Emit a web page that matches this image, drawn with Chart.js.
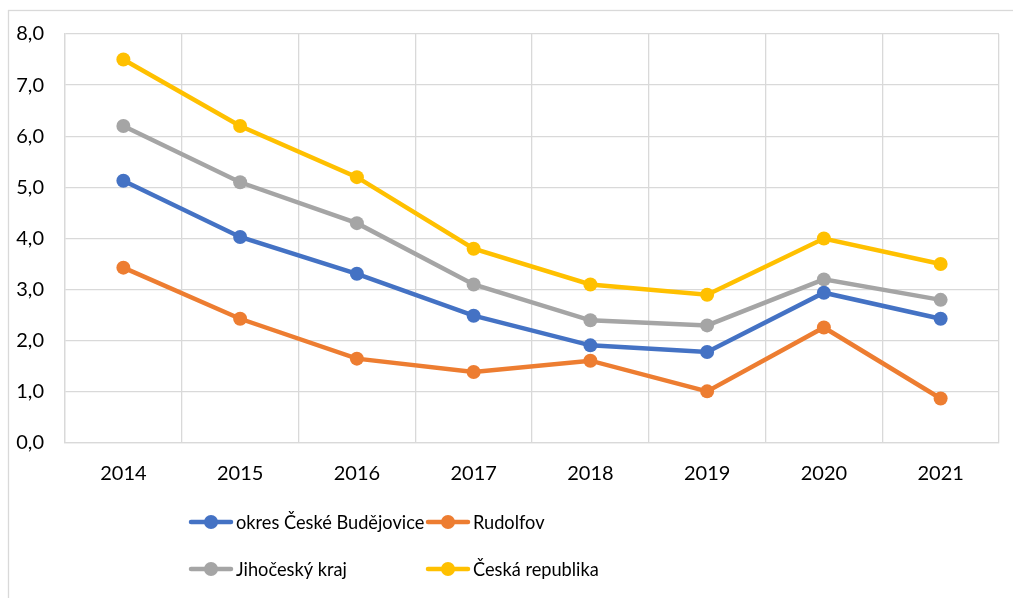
<!DOCTYPE html>
<html>
<head>
<meta charset="utf-8">
<script src="https://cdn.jsdelivr.net/npm/chart.js@4/dist/chart.umd.min.js"></script>
<style>
html,body{margin:0;padding:0;background:#fff;}
#wrap{width:1013px;height:598px;position:relative;}
</style>
</head>
<body>
<div id="wrap"><canvas id="c" width="1013" height="598"></canvas></div>
<script>
const years = ['2014','2015','2016','2017','2018','2019','2020','2021'];
const seriesNames = ['okres České Budějovice','Rudolfov','Jihočeský kraj','Česká republika'];
const okresCB = [5.13, 4.03, 3.31, 2.49, 1.91, 1.78, 2.94, 2.43];
const rudolfov = [3.43, 2.43, 1.65, 1.39, 1.61, 1.01, 2.26, 0.87];
const jihocesky = [6.2, 5.1, 4.3, 3.1, 2.4, 2.3, 3.2, 2.8];
const cr = [7.5, 6.2, 5.2, 3.8, 3.1, 2.9, 4.0, 3.5];
const colors = ['#4472C4','#ED7D31','#A5A5A5','#FFC000'];
const yTicks = [0,1,2,3,4,5,6,7,8];

const FONT = 'Lato';
const values = [okresCB, rudolfov, jihocesky, cr];

const datasets = values.map((v,i)=>({
  label: seriesNames[i],
  data: v,
  borderColor: colors[i],
  backgroundColor: colors[i],
  pointBackgroundColor: colors[i],
  pointBorderColor: colors[i],
  borderWidth: 4.5,
  pointRadius: 7,
  pointBorderWidth: 0,
  tension: 0,
  fill: false
}));

const frameAndLegend = {
  id: 'frameAndLegend',
  beforeDraw(chart){
    const ctx = chart.ctx;
    ctx.save();
    ctx.fillStyle = '#fff';
    ctx.fillRect(0,0,chart.width,chart.height);
    ctx.strokeStyle = '#d9d9d9';
    ctx.lineWidth = 1.3;
    ctx.strokeRect(8.5, 10.5, 1020, 600);
    ctx.restore();
  },
  afterDraw(chart){
    const ctx = chart.ctx;
    const cols = [191, 428];
    const rows = [522, 569];
    chart.data.datasets.forEach((ds,i)=>{
      const x = cols[i%2];
      const y = rows[Math.floor(i/2)];
      ctx.save();
      ctx.strokeStyle = ds.borderColor;
      ctx.lineWidth = 4.5;
      ctx.lineCap = 'round';
      ctx.beginPath();
      ctx.moveTo(x, y);
      ctx.lineTo(x+40, y);
      ctx.stroke();
      ctx.fillStyle = ds.borderColor;
      ctx.beginPath();
      ctx.arc(x+20, y, 7, 0, Math.PI*2);
      ctx.fill();
      ctx.font = '20px ' + FONT;
      ctx.textBaseline = 'middle';
      ctx.textAlign = 'left';
      ctx.fillStyle = '#000';
      ctx.translate(x+45, y+1);
      ctx.scale(0.91, 1);
      ctx.fillText(ds.label, 0, 0);
      ctx.restore();
    });
  }
};

new Chart(document.getElementById('c'), {
  type: 'line',
  data: { labels: years, datasets },
  options: {
    responsive: false,
    animation: false,
    layout: { padding: { top: 34, right: 14, bottom: 105, left: 0 } },
    plugins: { legend: { display: false }, tooltip: { enabled: false } },
    scales: {
      x: {
        offset: true,
        grid: { offset: true, color: '#d9d9d9', lineWidth: 1.3, drawTicks: false },
        border: { color: '#d9d9d9', width: 1.3 },
        ticks: { color: '#000', font: { family: FONT, size: 20 }, padding: 19, maxRotation: 0 },
        afterFit(s){ s.height = 50; }
      },
      y: {
        min: 0, max: 8,
        afterBuildTicks(s){ s.ticks = yTicks.map(v=>({value:v})); },
        grid: { color: '#d9d9d9', lineWidth: 1.3, drawTicks: false },
        border: { color: '#d9d9d9', width: 1.3 },
        ticks: {
          color: '#000', font: { family: FONT, size: 20 }, padding: 21,
          callback: v => v.toFixed(1).replace('.', ',')
        },
        afterFit(s){ s.width = 65; }
      }
    }
  },
  plugins: [frameAndLegend]
});
</script>
</body>
</html>
